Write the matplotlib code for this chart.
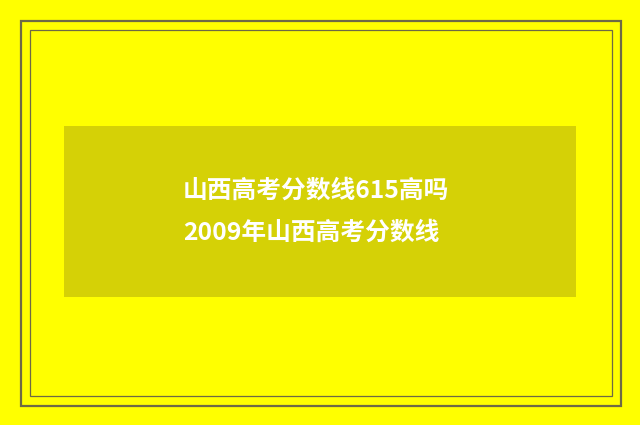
import matplotlib
matplotlib.use('Agg')
import matplotlib.pyplot as plt
from matplotlib.patches import Rectangle

plt.rcParams['font.family'] = ['Noto Sans CJK SC', 'DejaVu Sans']

# 文字内容
lines = ['山西高考分数线615高吗', '2009年山西高考分数线']
line_y = [191, 233]

fig = plt.figure(figsize=(6.4, 4.25), dpi=100)
fig.patch.set_facecolor('#FFFF00')
ax = fig.add_axes([0, 0, 1, 1])
ax.set_xlim(0, 640)
ax.set_ylim(425, 0)
ax.axis('off')

# 外框和内框
ax.add_patch(Rectangle((21, 21), 600, 385, fill=False, edgecolor='#6E6A45', linewidth=1.6))
ax.add_patch(Rectangle((29.5, 29.5), 582, 366, fill=False, edgecolor='#6E6A45', linewidth=0.9))

# 中间色块
ax.add_patch(Rectangle((64, 126), 512, 171, facecolor='#D5D106', edgecolor='none'))

for t, y in zip(lines, line_y):
    ax.text(183, y, t, color='white', fontsize=17.8, fontweight='bold', ha='left', va='center')

fig.savefig('out.png', dpi=100, facecolor=fig.get_facecolor())
